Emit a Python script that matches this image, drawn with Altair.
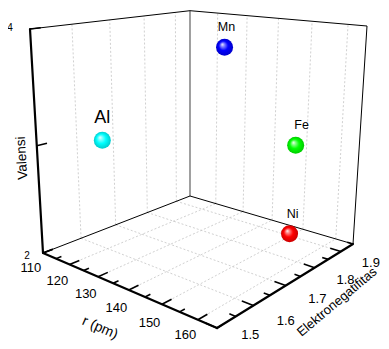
import numpy as np
import pandas as pd
import altair as alt

# ---------------- data ----------------
elements = ["Al", "Mn", "Fe", "Ni"]
radius_pm = [118, 161, 156, 149]
electroneg = [1.61, 1.55, 1.83, 1.91]
valence = [3, 4, 3, 2]
sphere_colors = ["#00ffff", "#0000ff", "#00ff00", "#ff0000"]

r_major = [110, 120, 130, 140, 150, 160]
r_minor = [115, 125, 135, 145, 155, 165]
en_major = [1.5, 1.6, 1.7, 1.8, 1.9]
en_minor = [1.55, 1.65, 1.75, 1.85, 1.95]
v_major = [2, 3, 4]
v_labels = ["2", "", "4"]

R_LO, R_HI = 110, 165
EN_LO, EN_HI = 1.5, 1.95
V_LO, V_HI = 2, 4

# ---------------- 3D camera (layout of the box on the page) ----------------
box_corners = [(0, 0, 0), (1, 0, 0), (0, 1, 0), (1, 1, 0),
               (0, 0, 1), (1, 0, 1), (0, 1, 1), (1, 1, 1)]
corner_px = [(43, 253), (217, 328), (190, 196), (353, 244),
             (30, 29), (221, 53), (190, 10.7), (367, 26)]


def fit_camera():
    rows = []
    for (u, v, w), (x, y) in zip(box_corners, corner_px):
        X = [u, v, w, 1.0]
        xn = (x - 200) / 200.0
        yn = (y - 175) / 200.0
        rows.append(X + [0, 0, 0, 0] + [-xn * c for c in X])
        rows.append([0, 0, 0, 0] + X + [-yn * c for c in X])
    _, _, vt = np.linalg.svd(np.array(rows, dtype=float))
    return vt[-1].reshape(3, 4)


P = fit_camera()


def dlt(u, v, w):
    h = P @ np.array([u, v, w, 1.0])
    return np.array([h[0] / h[2] * 200 + 200, h[1] / h[2] * 200 + 175])


residuals = [np.array(px, dtype=float) - dlt(*c) for c, px in zip(box_corners, corner_px)]


def project(r, en, v):
    u = (r - R_LO) / (R_HI - R_LO)
    w_ = (en - EN_LO) / (EN_HI - EN_LO)
    z = (v - V_LO) / (V_HI - V_LO)
    p = dlt(u, w_, z)
    for (cu, cv, cw), res in zip(box_corners, residuals):
        wt = (u if cu else 1 - u) * (w_ if cv else 1 - w_) * (z if cw else 1 - z)
        p = p + wt * res
    return float(p[0]), float(p[1])


def seg(p1, p2):
    x1, y1 = project(*p1)
    x2, y2 = project(*p2)
    return {"x": x1, "y": y1, "x2": x2, "y2": y2}


# ---------------- geometry tables ----------------
grid = []
for r in r_major[1:]:
    grid.append(seg((r, EN_LO, V_LO), (r, EN_HI, V_LO)))
    grid.append(seg((r, EN_HI, V_LO), (r, EN_HI, V_HI)))
for en in en_major[1:]:
    grid.append(seg((R_LO, en, V_LO), (R_HI, en, V_LO)))
    grid.append(seg((R_LO, en, V_LO), (R_LO, en, V_HI)))
grid_df = pd.DataFrame(grid)

thin_edges = pd.DataFrame([
    seg((R_LO, EN_LO, V_LO), (R_LO, EN_HI, V_LO)),
    seg((R_LO, EN_HI, V_LO), (R_HI, EN_HI, V_LO)),
    seg((R_LO, EN_LO, V_HI), (R_LO, EN_HI, V_HI)),
    seg((R_LO, EN_HI, V_HI), (R_HI, EN_HI, V_HI)),
    seg((R_HI, EN_HI, V_LO), (R_HI, EN_HI, V_HI)),
])
back_edge = pd.DataFrame([seg((R_LO, EN_HI, V_LO), (R_LO, EN_HI, V_HI))])
axes_df = pd.DataFrame([
    seg((R_LO, EN_LO, V_LO), (R_HI, EN_LO, V_LO)),
    seg((R_HI, EN_LO, V_LO), (R_HI, EN_HI, V_LO)),
    seg((R_LO, EN_LO, V_LO), (R_LO, EN_LO, V_HI)),
])

en_span = EN_HI - EN_LO
r_span = R_HI - R_LO
v_span = V_HI - V_LO
ticks = []
for r in r_major:
    ticks.append(seg((r, EN_LO, V_LO), (r, EN_LO + 0.055 * en_span, V_LO)))
for r in r_minor:
    ticks.append(seg((r, EN_LO, V_LO), (r, EN_LO + 0.03 * en_span, V_LO)))
for en in en_major:
    ticks.append(seg((R_HI, en, V_LO), (R_HI - 0.055 * r_span, en, V_LO)))
for en in en_minor:
    ticks.append(seg((R_HI, en, V_LO), (R_HI - 0.03 * r_span, en, V_LO)))
for v in v_major:
    ticks.append(seg((R_LO, EN_LO, v), (R_LO, EN_LO + 0.055 * en_span, v)))
ticks_df = pd.DataFrame(ticks)

LABEL_Y_MAX = 335  # keep the lowest labels inside the drawing area

tick_labels = []
for r in r_major:
    x, y = project(r, EN_LO - 0.07 * en_span, V_LO - 0.05 * v_span)
    tick_labels.append({"x": x, "y": min(y, LABEL_Y_MAX), "text": str(r)})
for en in en_major:
    x, y = project(R_HI + 0.15 * r_span, en, V_LO - 0.01 * v_span)
    tick_labels.append({"x": x, "y": min(y, LABEL_Y_MAX), "text": f"{en:.1f}"})
tick_df = pd.DataFrame(tick_labels)

v_lab = []
for v, t in zip(v_major, v_labels):
    x, y = project(R_LO, EN_LO, v)
    frac = (v - V_LO) / v_span
    v_lab.append({"x": x - 16 - 4 * frac, "y": y + 2.5 - 3.5 * frac, "text": t})
v_df = pd.DataFrame(v_lab)

pts = []
for name, r, en, v, c in zip(elements, radius_pm, electroneg, valence, sphere_colors):
    x, y = project(r, en, v)
    pts.append({"name": name, "x": x, "y": y, "color": c})
pts_df = pd.DataFrame(pts)

# axis titles, anchored in the same page frame as the box
titles = [
    {"text": "Valensi", "x": 22, "y": 158, "angle": 267, "size": 13.5},
    {"text": "r (pm)", "x": 100, "y": 328, "angle": 24, "size": 14},
    {"text": "Elektronegatifitas", "x": 337, "y": 302, "angle": 320, "size": 13},
]

# ---------------- chart ----------------
W, H = 373, 333
xs = alt.Scale(domain=[8, 8 + W], nice=False, zero=False)
ys = alt.Scale(domain=[8, 8 + H], nice=False, zero=False, reverse=True)
X = alt.X("x:Q", scale=xs, axis=None)
Y = alt.Y("y:Q", scale=ys, axis=None)
X2 = alt.X2("x2:Q")
Y2 = alt.Y2("y2:Q")
FONT = "Liberation Sans"


def rules(df, **kw):
    return alt.Chart(df).mark_rule(**kw).encode(x=X, y=Y, x2=X2, y2=Y2)


layers = [
    rules(grid_df, color="#c4c4c4", strokeWidth=0.8, strokeDash=[2, 2]),
    rules(back_edge, color="#777777", strokeWidth=1.4),
    rules(thin_edges, color="#000000", strokeWidth=1),
    rules(axes_df, color="#000000", strokeWidth=2.2, strokeCap="round"),
    rules(ticks_df, color="#000000", strokeWidth=1.6),
    alt.Chart(tick_df).mark_text(font=FONT, fontSize=13, color="black",
                                 align="center", baseline="middle")
    .encode(x=X, y=Y, text="text:N"),
    alt.Chart(v_df).mark_text(font=FONT, fontSize=10, color="black",
                              align="center", baseline="middle")
    .encode(x=X, y=Y, text="text:N"),
]

for t in titles:
    layers.append(alt.Chart(pd.DataFrame([t])).mark_text(
        font=FONT, fontSize=t["size"], angle=t["angle"], align="center",
        baseline="middle", color="black")
        .encode(x=X, y=Y, text="text:N"))


def shade(hexc, f):
    c = [int(hexc[i:i + 2], 16) for i in (1, 3, 5)]
    if f >= 0:
        c = [int(v + (255 - v) * f) for v in c]
    else:
        c = [int(v * (1 + f)) for v in c]
    return "#%02x%02x%02x" % tuple(c)


for i, row in pts_df.iterrows():
    base = row["color"]
    grad = {
        "gradient": "radial",
        "x1": 0.36, "y1": 0.33, "r1": 0.0,
        "x2": 0.5, "y2": 0.5, "r2": 0.5,
        "stops": [
            {"offset": 0.0, "color": "#ffffff"},
            {"offset": 0.2, "color": shade(base, 0.55)},
            {"offset": 0.55, "color": base},
            {"offset": 1.0, "color": shade(base, -0.2)},
        ],
    }
    layers.append(alt.Chart(pts_df.iloc[[i]]).mark_circle(color=grad, opacity=1, size=290)
                  .encode(x=X, y=Y))

label_dx = {"Al": 0, "Mn": 2, "Fe": 6, "Ni": 3}
for i, row in pts_df.iterrows():
    big = row["name"] == "Al"
    layers.append(alt.Chart(pts_df.iloc[[i]]).mark_text(
        font=FONT, fontSize=18 if big else 12.5, color="black",
        align="center", baseline="middle", dx=label_dx[row["name"]], dy=-22 if big else -20)
        .encode(x=X, y=Y, text="name:N"))

chart = alt.layer(*layers).properties(
    width=W, height=H, padding=0, autosize=alt.AutoSizeParams(type="none")
).configure_view(stroke=None)

chart.save("out.html", embed_options={"renderer": "svg", "actions": False})
